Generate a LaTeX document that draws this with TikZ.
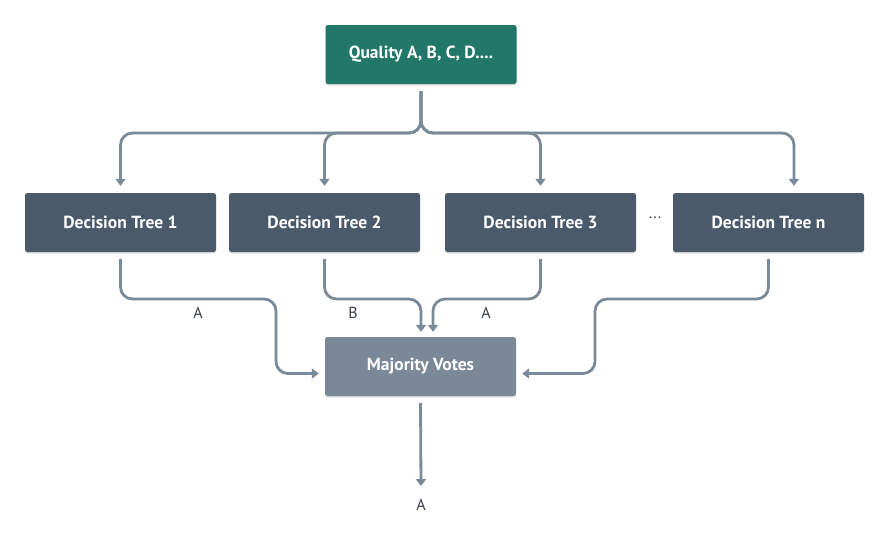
\documentclass[tikz,border=0pt]{standalone}
\usepackage{fontspec}
\setmainfont{PT Sans}
\usetikzlibrary{arrows.meta,shadows}
\definecolor{qteal}{HTML}{217868}
\definecolor{dtgray}{HTML}{4A5A6B}
\definecolor{mvgray}{HTML}{7A8898}
\definecolor{conngray}{HTML}{7B8A99}
\definecolor{labgray}{HTML}{3A4048}
\begin{document}
\begin{tikzpicture}[x=1pt,y=-1pt,
  box/.style={rectangle, rounded corners=2.5pt, minimum width=191pt, minimum height=59pt,
    inner sep=0pt, text=white, font=\bfseries\fontsize{17.5}{20}\selectfont,
    drop shadow={shadow xshift=0pt, shadow yshift=-1.5pt, opacity=0.12, fill=black}},
  topbox/.style={box, fill=qteal},
  dtbox/.style={box, fill=dtgray},
  mvbox/.style={box, fill=mvgray},
  conn/.style={draw=conngray, line width=2.8pt, rounded corners=12pt,
    -{Triangle[width=10pt,length=7pt]}},
  lab/.style={text=labgray, font=\fontsize{16}{18}\selectfont, inner sep=0pt}
]
\fill[white] (0,0) rectangle (890,542);
\useasboundingbox (0,0) rectangle (890,542);

\node[topbox] (q) at (421,54.5) {Quality A, B, C, D....};
\node[dtbox] (d1) at (120.5,222.5) {Decision Tree 1};
\node[dtbox] (d2) at (324.5,222.5) {Decision Tree 2};
\node[dtbox] (d3) at (540.5,222.5) {Decision Tree 3};
\node[dtbox] (dn) at (768.5,222.5) {Decision Tree n};
\node[lab] (dots) at (655,218) {...};
\node[mvbox] (mv) at (420.5,366.5) {Majority Votes};

% top fan-out
\draw[conn] ([yshift=-7pt]q.south) -- (421,133) -- (120.5,133) -- ([yshift=7pt]d1.north);
\draw[conn] ([yshift=-7pt]q.south) -- (421,133) -- (324.5,133) -- ([yshift=7pt]d2.north);
\draw[conn] ([yshift=-7pt]q.south) -- (421,133) -- (540.5,133) -- ([yshift=7pt]d3.north);
\draw[conn] ([yshift=-7pt]q.south) -- (421,133) -- (794,133) -- ([xshift=25.5pt,yshift=7pt]dn.north);

% fan-in
\draw[conn] ([yshift=-7pt]d1.south) -- (120.5,299) -- (276,299) -- (276,373.5) -- ([xshift=-6pt,yshift=-7pt]mv.west);
\draw[conn] ([yshift=-7pt]d2.south) -- (324.5,299) -- (421,299) -- ([xshift=0.5pt,yshift=5pt]mv.north);
\draw[conn] ([yshift=-7pt]d3.south) -- (540.5,299) -- (433,299) -- ([xshift=12.5pt,yshift=5pt]mv.north);
\draw[conn] ([yshift=-7pt]dn.south) -- (768.5,299) -- (595,299) -- (595,373.5) -- ([xshift=6pt,yshift=-7pt]mv.east);

\node[lab] (la1) at (198,313) {A};
\node[lab] (lb) at (353,313) {B};
\node[lab] (la3) at (486,313) {A};

\node[lab] (out) at (421,505) {A};
\draw[conn] ([yshift=-7pt]mv.south) -- ([yshift=13pt]out.north);
\end{tikzpicture}
\end{document}
